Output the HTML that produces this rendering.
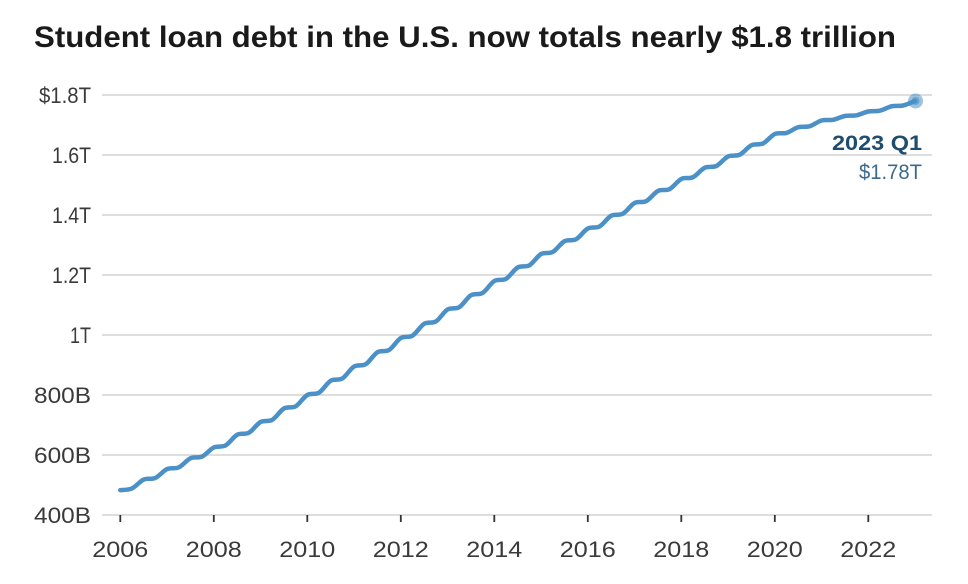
<!DOCTYPE html>
<html>
<head>
<meta charset="utf-8">
<style>
  html,body{margin:0;padding:0;background:#fff;}
  svg{display:block;}
  text{font-family:"Liberation Sans", Arial, sans-serif;}
</style>
</head>
<body>
<svg width="968" height="584" viewBox="0 0 968 584" xmlns="http://www.w3.org/2000/svg">
  <rect width="968" height="584" fill="#fff"/>
  <!-- Title -->
  <text x="34" y="47" font-size="30" font-weight="bold" fill="#1a1a1a" textLength="862" lengthAdjust="spacingAndGlyphs">Student loan debt in the U.S. now totals nearly $1.8 trillion</text>

  <!-- Gridlines -->
  <g stroke="#d4d4d4" stroke-width="1.5">
    <line x1="102" y1="95" x2="932" y2="95"/>
    <line x1="102" y1="155" x2="932" y2="155"/>
    <line x1="102" y1="215" x2="932" y2="215"/>
    <line x1="102" y1="275" x2="932" y2="275"/>
    <line x1="102" y1="335" x2="932" y2="335"/>
    <line x1="102" y1="395" x2="932" y2="395"/>
    <line x1="102" y1="455" x2="932" y2="455"/>
    <line x1="102" y1="515" x2="932" y2="515"/>
  </g>

  <!-- Y labels -->
  <g font-size="22" fill="#3a3a3a" text-anchor="end">
    <text x="91" y="103" textLength="52" lengthAdjust="spacingAndGlyphs">$1.8T</text>
    <text x="91" y="163" textLength="39" lengthAdjust="spacingAndGlyphs">1.6T</text>
    <text x="91" y="223" textLength="39" lengthAdjust="spacingAndGlyphs">1.4T</text>
    <text x="91" y="283" textLength="39" lengthAdjust="spacingAndGlyphs">1.2T</text>
    <text x="91" y="343" textLength="21" lengthAdjust="spacingAndGlyphs">1T</text>
    <text x="91" y="403" textLength="57" lengthAdjust="spacingAndGlyphs">800B</text>
    <text x="91" y="463" textLength="57" lengthAdjust="spacingAndGlyphs">600B</text>
    <text x="91" y="523" textLength="57" lengthAdjust="spacingAndGlyphs">400B</text>
  </g>

  <!-- X ticks -->
  <g stroke="#333" stroke-width="1.8">
    <line x1="120.3" y1="515" x2="120.3" y2="522"/>
    <line x1="213.8" y1="515" x2="213.8" y2="522"/>
    <line x1="307.3" y1="515" x2="307.3" y2="522"/>
    <line x1="400.8" y1="515" x2="400.8" y2="522"/>
    <line x1="494.3" y1="515" x2="494.3" y2="522"/>
    <line x1="587.8" y1="515" x2="587.8" y2="522"/>
    <line x1="681.3" y1="515" x2="681.3" y2="522"/>
    <line x1="774.8" y1="515" x2="774.8" y2="522"/>
    <line x1="868.3" y1="515" x2="868.3" y2="522"/>
  </g>

  <!-- X labels -->
  <g font-size="22" fill="#3a3a3a" text-anchor="middle">
    <text x="120.3" y="557" textLength="56" lengthAdjust="spacingAndGlyphs">2006</text>
    <text x="213.8" y="557" textLength="56" lengthAdjust="spacingAndGlyphs">2008</text>
    <text x="307.3" y="557" textLength="56" lengthAdjust="spacingAndGlyphs">2010</text>
    <text x="400.8" y="557" textLength="56" lengthAdjust="spacingAndGlyphs">2012</text>
    <text x="494.3" y="557" textLength="56" lengthAdjust="spacingAndGlyphs">2014</text>
    <text x="587.8" y="557" textLength="56" lengthAdjust="spacingAndGlyphs">2016</text>
    <text x="681.3" y="557" textLength="56" lengthAdjust="spacingAndGlyphs">2018</text>
    <text x="774.8" y="557" textLength="56" lengthAdjust="spacingAndGlyphs">2020</text>
    <text x="868.3" y="557" textLength="56" lengthAdjust="spacingAndGlyphs">2022</text>
  </g>

  <!-- Series -->
  <polyline id="series" fill="none" stroke="#4b90c6" stroke-width="4.5" stroke-linejoin="round" stroke-linecap="round"
    points="120.3,490.1 131.99,488.42 143.68,479.6 155.36,477.92
            167.05,469.1 178.74,467.37 190.43,458.3 202.11,456.57
            213.8,447.5 225.49,445.46 237.18,434.75 248.86,432.71
            260.55,422 272.24,419.84 283.93,408.5 295.61,406.34
            307.3,395 318.99,392.72 330.68,380.75 342.36,378.47
            354.05,366.5 365.74,364.22 377.43,352.25 389.11,349.97
            400.8,338 412.49,335.72 424.18,323.75 435.86,321.47
            447.55,309.5 459.24,307.22 470.93,295.25 482.61,292.97
            494.3,281 505.99,278.84 517.68,267.5 529.36,265.34
            541.05,254 552.74,251.96 564.43,241.25 576.11,239.21
            587.8,228.5 599.49,226.46 611.18,215.75 622.86,213.71
            634.55,203 646.24,201.08 657.93,191 669.61,189.08
            681.3,179 692.99,177.2 704.68,167.75 716.36,165.95
            728.05,156.5 739.74,154.7 751.43,145.25 763.11,143.45
            774.8,134 786.49,132.92 798.18,127.25 809.86,126.17
            821.55,120.5 833.24,119.78 844.93,116 856.61,115.28
            868.3,111.5 879.99,110.66 891.68,106.25 903.36,105.41
            915.05,101"/>
  <path id="smooth" fill="none" stroke="#4b90c6" stroke-width="4.5" stroke-linejoin="round" stroke-linecap="round" d=""/>

  <!-- End marker -->
  <circle cx="915.5" cy="101" r="7.5" fill="#4b90c6" fill-opacity="0.55"/>
  <circle cx="915.5" cy="101" r="4" fill="#4b90c6" fill-opacity="0.6"/>

  <!-- Annotation -->
  <text x="922" y="150" font-size="21" font-weight="bold" fill="#1f4d6d" text-anchor="end" textLength="90" lengthAdjust="spacingAndGlyphs">2023 Q1</text>
  <text x="922" y="179" font-size="21" fill="#3d6a8c" text-anchor="end" textLength="63" lengthAdjust="spacingAndGlyphs">$1.78T</text>
</svg>
<script>
(function(){
  var pl=document.getElementById('series');
  var raw=pl.getAttribute('points').trim().split(/\s+/);
  var p=raw.map(function(s){var a=s.split(',');return [parseFloat(a[0]),parseFloat(a[1])];});
  var d='M'+p[0][0]+','+p[0][1];
  for(var i=0;i<p.length-1;i++){
    var p0=p[i>0?i-1:i],p1=p[i],p2=p[i+1],p3=p[i+2<p.length?i+2:i+1];
    var t=6;
    var c1x=p1[0]+(p2[0]-p0[0])/t,c1y=p1[1]+(p2[1]-p0[1])/t;
    var c2x=p2[0]-(p3[0]-p1[0])/t,c2y=p2[1]-(p3[1]-p1[1])/t;
    d+=' C'+c1x.toFixed(2)+','+c1y.toFixed(2)+' '+c2x.toFixed(2)+','+c2y.toFixed(2)+' '+p2[0]+','+p2[1];
  }
  var sm=document.getElementById('smooth');
  sm.setAttribute('d',d);
  pl.style.display='none';
})();
</script>
</body>
</html>
